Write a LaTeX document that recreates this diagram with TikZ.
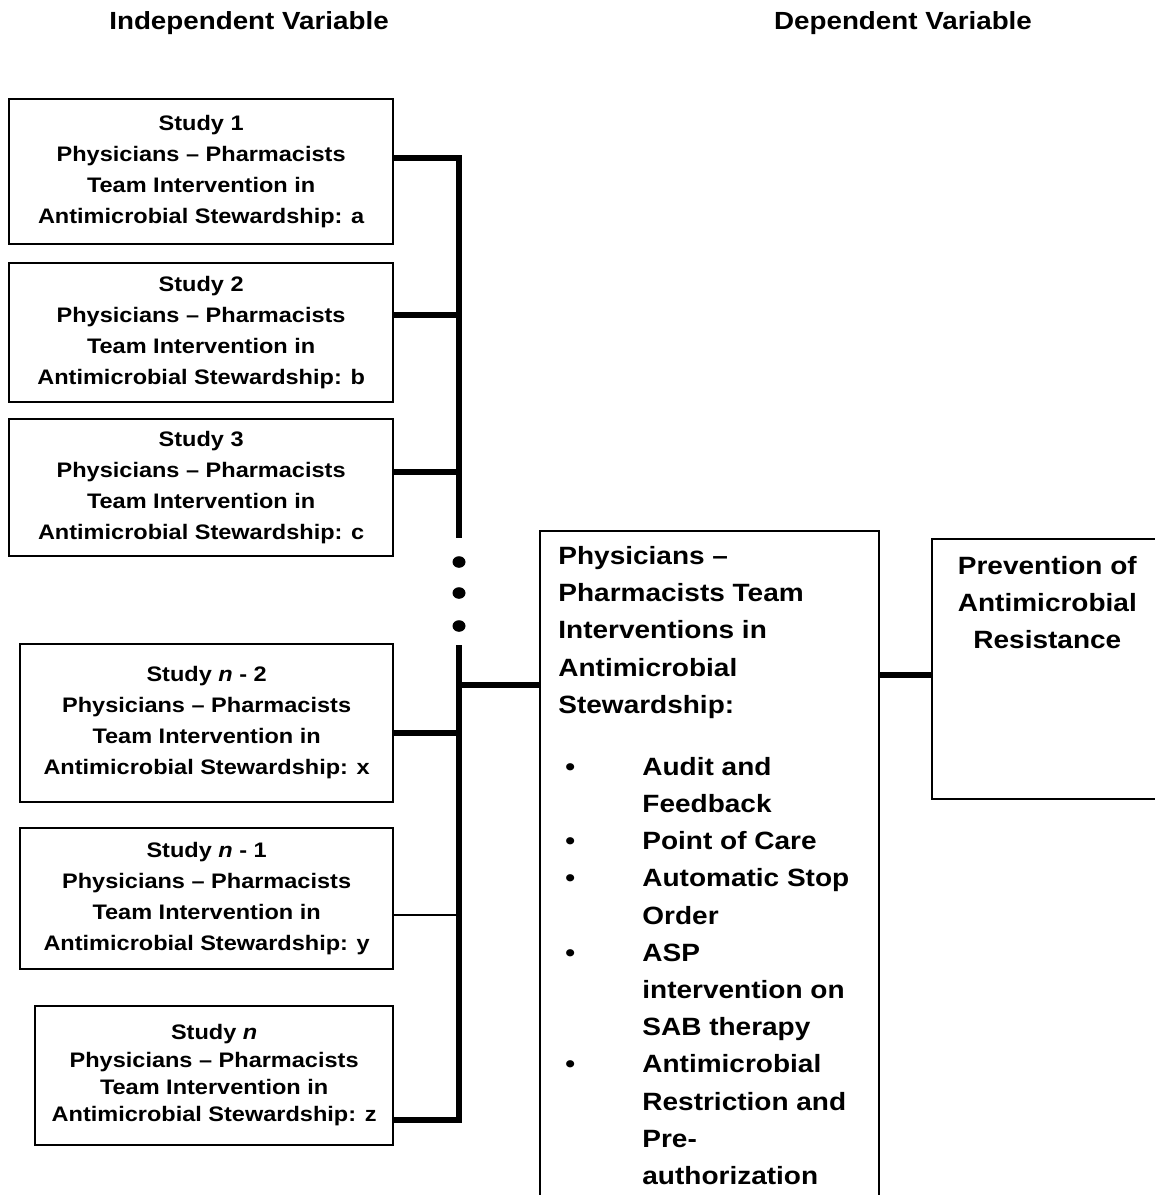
\documentclass[tikz,border=0pt]{standalone}
\usepackage{fontspec}
\setmainfont[FakeStretch=1.12]{Liberation Sans}
\usetikzlibrary{positioning, shapes.geometric}

\begin{document}
\begin{tikzpicture}[
    x=0.5pt, y=-0.5pt,
    study/.style={rectangle, draw=black, line width=0.85pt, align=center, inner sep=0pt, font=\bfseries\fontsize{10.5}{15.5}\selectfont},
    bigbox/.style={rectangle, draw=black, line width=0.85pt, inner sep=0pt},
    bigtext/.style={inner sep=0pt, font=\bfseries\fontsize{12.5}{18.6}\selectfont},
    heading/.style={font=\bfseries\fontsize{12.4}{15}\selectfont},
    bus/.style={line width=2.7pt, line join=miter},
    thinlink/.style={line width=0.6pt},
    dot/.style={ellipse, fill=black, inner sep=0pt, minimum width=6.5pt, minimum height=5.8pt},
]
    \useasboundingbox (0,0) rectangle (1155,1195);

    % Headings
    \node (indep) [heading] at (249,23) {Independent Variable};
    \node (dep) [heading] at (903,23) {Dependent Variable};

    % Studies
    \node (s1) [study, minimum width=192pt, minimum height=72.5pt, anchor=north east] at (394,98)
        {Study 1\\Physicians – Pharmacists\\Team Intervention in\\Antimicrobial Stewardship: a};
    \node (s2) [study, minimum width=192pt, minimum height=69.5pt, anchor=north east] at (394,262)
        {Study 2\\Physicians – Pharmacists\\Team Intervention in\\Antimicrobial Stewardship: b};
    \node (s3) [study, minimum width=192pt, minimum height=68.5pt, anchor=north east] at (394,418)
        {Study 3\\Physicians – Pharmacists\\Team Intervention in\\Antimicrobial Stewardship: c};
    \node (s4) [study, minimum width=186.5pt, minimum height=79pt, anchor=north east] at (394,643)
        {Study \textit{n} - 2\\Physicians – Pharmacists\\Team Intervention in\\Antimicrobial Stewardship: x};
    \node (s5) [study, minimum width=186.5pt, minimum height=70.5pt, anchor=north east] at (394,827)
        {Study \textit{n} - 1\\Physicians – Pharmacists\\Team Intervention in\\Antimicrobial Stewardship: y};
    \node (s6) [study, minimum width=179pt, minimum height=69.5pt, anchor=north east,
        font=\bfseries\fontsize{10.5}{13.7}\selectfont] at (394,1005)
        {Study \textit{n}\\Physicians – Pharmacists\\Team Intervention in\\Antimicrobial Stewardship: z};

    % Dots in the bus
    \node (dot1) [dot] at (459,562) {};
    \node (dot2) [dot] at (459,593) {};
    \node (dot3) [dot] at (459,626) {};

    % Interventions box
    \node (team) [bigbox, minimum width=169.5pt, minimum height=340pt, anchor=north west] at (539,530) {};
    \node (teamhead) [bigtext, align=left, anchor=north west] at ([xshift=9.5pt, yshift=-8pt]team.north west)
        {Physicians –\\Pharmacists Team\\Interventions in\\Antimicrobial\\Stewardship:};
    \node (teamlist) [bigtext, below=15pt of teamhead.south west, anchor=north west] {%
        \begin{tabular}{@{}p{42pt}@{}l@{}}
        \hspace*{3.5pt}• & Audit and\\
                         & Feedback\\
        \hspace*{3.5pt}• & Point of Care\\
        \hspace*{3.5pt}• & Automatic Stop\\
                         & Order\\
        \hspace*{3.5pt}• & ASP\\
                         & intervention on\\
                         & SAB therapy\\
        \hspace*{3.5pt}• & Antimicrobial\\
                         & Restriction and\\
                         & Pre-\\
                         & authorization\\
        \end{tabular}};

    % Outcome box
    \node (outcome) [bigbox, minimum width=115.5pt, minimum height=130pt, anchor=north west] at (931,538) {};
    \node (outcometext) [bigtext, align=center, anchor=north] at ([yshift=-9pt]outcome.north)
        {Prevention of\\Antimicrobial\\Resistance};

    % Bus and branches
    \coordinate (bustop) at (459,158);
    \coordinate (busbreak) at (459,538);
    \coordinate (busresume) at (459,645);
    \coordinate (busend) at (459,1120);
    \coordinate (j2) at (459,315);
    \coordinate (j3) at (459,472);
    \coordinate (j4) at (459,733);
    \coordinate (j5) at (459,915);
    \coordinate (jteam) at (459,685);
    \coordinate (jout) at (905,675);

    \draw [bus] (s1.east |- bustop) -- (bustop) -- (busbreak);
    \draw [bus] (s2.east |- j2) -- (j2);
    \draw [bus] (s3.east |- j3) -- (j3);
    \draw [bus] (busresume) -- (busend) -- (s6.east |- busend);
    \draw [bus] (s4.east |- j4) -- (j4);
    \draw [thinlink] (s5.east |- j5) -- (j5);
    \draw [bus] (jteam) -- (team.west |- jteam);
    \draw [bus] (team.east |- jout) -- (outcome.west |- jout);

\end{tikzpicture}
\end{document}
